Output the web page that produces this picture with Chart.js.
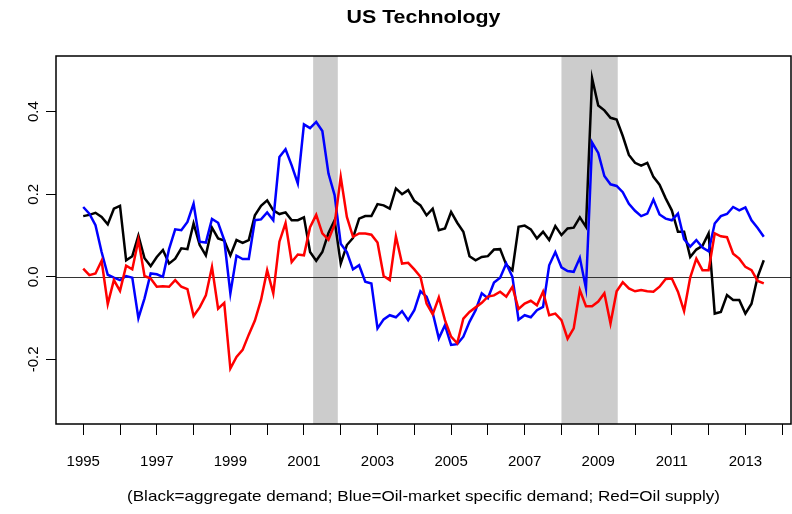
<!DOCTYPE html>
<html>
<head>
<meta charset="utf-8">
<script src="https://cdn.jsdelivr.net/npm/chart.js@4.4.1/dist/chart.umd.min.js"></script>
<style>
  body { margin: 0; background: #fff; }
  canvas { display: block; }
</style>
</head>
<body>
<canvas id="myChart" width="792" height="514"></canvas>
<script>
// bimonthly observations starting Jan 1995
const startYear = 1995;
const stepPerYear = 6;

const aggregateDemand = [
  0.147, 0.15, 0.155, 0.145, 0.127, 0.165, 0.172, 0.04, 0.05, 0.10,
  0.045, 0.026, 0.048, 0.065, 0.032, 0.044, 0.069, 0.067, 0.129, 0.077,
  0.052, 0.119, 0.093, 0.088, 0.052, 0.089, 0.082, 0.089, 0.149, 0.172,
  0.185, 0.161, 0.152, 0.156, 0.137, 0.137, 0.144, 0.06, 0.039, 0.06,
  0.106, 0.137, 0.032, 0.077, 0.094, 0.141, 0.147, 0.147, 0.176, 0.173,
  0.165, 0.214, 0.2, 0.21, 0.184, 0.173, 0.149, 0.165, 0.113, 0.117,
  0.157, 0.131, 0.109, 0.05, 0.04, 0.048, 0.05, 0.066, 0.067, 0.029,
  0.016, 0.121, 0.124, 0.115, 0.093, 0.109, 0.089, 0.123, 0.101, 0.117,
  0.119, 0.144, 0.121, 0.481, 0.415, 0.403, 0.385, 0.381, 0.341, 0.295,
  0.276, 0.269, 0.276, 0.242, 0.223, 0.19, 0.161, 0.109, 0.109, 0.048,
  0.066, 0.075, 0.105, -0.089, -0.085, -0.044, -0.056, -0.056, -0.089, -0.065,
  0.0, 0.04
];

const oilSpecificDemand = [
  0.169, 0.153, 0.125, 0.06, 0.005, -0.002, -0.008, 0.002, -0.002, -0.10,
  -0.052, 0.008, 0.006, 0.0, 0.067, 0.115, 0.113, 0.133, 0.177, 0.085,
  0.083, 0.14, 0.131, 0.089, -0.04, 0.051, 0.043, 0.043, 0.137, 0.139,
  0.156, 0.137, 0.29, 0.309, 0.27, 0.226, 0.369, 0.36, 0.375, 0.353,
  0.25, 0.198, 0.08, 0.06, 0.018, 0.028, -0.012, -0.016, -0.125, -0.103,
  -0.093, -0.098, -0.083, -0.105, -0.081, -0.035, -0.048, -0.087, -0.149, -0.117,
  -0.165, -0.163, -0.145, -0.109, -0.081, -0.04, -0.052, -0.014, -0.002, 0.032,
  0.0, -0.104, -0.093, -0.098, -0.081, -0.073, 0.028, 0.06, 0.023, 0.014,
  0.012, 0.046, -0.028, 0.325, 0.30, 0.244, 0.224, 0.22, 0.205, 0.177,
  0.16, 0.147, 0.153, 0.187, 0.151, 0.141, 0.137, 0.153, 0.091, 0.073,
  0.089, 0.071, 0.062, 0.129, 0.147, 0.152, 0.169, 0.161, 0.168, 0.137,
  0.118, 0.097
];

const oilSupply = [
  0.020, 0.004, 0.008, 0.039, -0.066, -0.008, -0.034, 0.027, 0.018, 0.089,
  0.002, -0.004, -0.024, -0.023, -0.024, -0.008, -0.024, -0.03, -0.095, -0.074,
  -0.045, 0.024, -0.077, -0.063, -0.222, -0.194, -0.177, -0.14, -0.106, -0.056,
  0.016, -0.04, 0.085, 0.13, 0.036, 0.054, 0.052, 0.12, 0.15, 0.105,
  0.09, 0.127, 0.242, 0.145, 0.097, 0.105, 0.105, 0.102, 0.083, 0.002,
  -0.008, 0.098, 0.032, 0.034, 0.018, 0.0, -0.065, -0.091, -0.05, -0.105,
  -0.145, -0.161, -0.101, -0.085, -0.074, -0.063, -0.048, -0.045, -0.036, -0.048,
  -0.024, -0.078, -0.065, -0.058, -0.069, -0.036, -0.093, -0.089, -0.105, -0.15,
  -0.125, -0.032, -0.071, -0.071, -0.06, -0.04, -0.113, -0.035, -0.013, -0.028,
  -0.035, -0.032, -0.035, -0.036, -0.024, -0.005, -0.004, -0.036, -0.083, -0.002,
  0.044, 0.016, 0.016, 0.105, 0.098, 0.096, 0.056, 0.044, 0.024, 0.016,
  -0.01, -0.016
];

const yearTicks = [1995, 1996, 1997, 1998, 1999, 2000, 2001, 2002, 2003, 2004,
                   2005, 2006, 2007, 2008, 2009, 2010, 2011, 2012, 2013, 2014];
const valueTicks = [-0.2, 0.0, 0.2, 0.4];
const recessions = [[2001.25, 2001.92], [2008.0, 2009.53]];

const titleText = 'US Technology';
const noteText = '(Black=aggregate demand; Blue=Oil-market specific demand; Red=Oil supply)';

const FONT = '"Liberation Sans", Arial, Helvetica, sans-serif';

const toPoints = (arr) => arr.map((v, i) => ({ x: startYear + i / stepPerYear, y: v }));

// draw text centred at (x, y), squeezed or stretched to a given width
const fitText = (ctx, text, x, y, width) => {
    const w = ctx.measureText(text).width;
    ctx.save();
    ctx.translate(x, y);
    ctx.scale(width / w, 1);
    ctx.fillText(text, 0, 0);
    ctx.restore();
};

// shading, zero line, frame, rotated y labels, title and footnote
const rPlotStyle = {
    id: 'rPlotStyle',
    beforeDatasetsDraw(chart) {
        const { ctx, chartArea: a, scales } = chart;
        ctx.save();
        ctx.fillStyle = '#cccccc';
        recessions.forEach(([from, to]) => {
            const x0 = scales.x.getPixelForValue(from);
            const x1 = scales.x.getPixelForValue(to);
            ctx.fillRect(x0, a.top, x1 - x0, a.bottom - a.top);
        });
        const y0 = Math.round(scales.y.getPixelForValue(0)) + 0.5;
        ctx.strokeStyle = '#333333';
        ctx.lineWidth = 1;
        ctx.beginPath();
        ctx.moveTo(a.left, y0);
        ctx.lineTo(a.right, y0);
        ctx.stroke();
        ctx.restore();
    },
    afterDraw(chart) {
        const { ctx, chartArea: a, scales } = chart;
        ctx.save();
        ctx.strokeStyle = '#000';
        ctx.lineWidth = 1.5;
        ctx.strokeRect(a.left, a.top, a.right - a.left, a.bottom - a.top);

        ctx.fillStyle = '#000';
        ctx.font = '15px ' + FONT;
        ctx.textAlign = 'center';
        ctx.textBaseline = 'middle';
        valueTicks.forEach(v => {
            const y = scales.y.getPixelForValue(v);
            ctx.save();
            ctx.translate(34, y);
            ctx.rotate(-Math.PI / 2);
            ctx.fillText(v.toFixed(1), 0, 0);
            ctx.restore();
        });

        const mid = (a.left + a.right) / 2;
        ctx.font = 'bold 19px ' + FONT;
        fitText(ctx, titleText, mid, 18, 154);

        ctx.font = '15px ' + FONT;
        fitText(ctx, noteText, mid, 497, 593);
        ctx.restore();
    }
};

const ctx = document.getElementById('myChart');
new Chart(ctx, {
    type: 'line',
    data: {
        datasets: [
            { label: 'Aggregate demand', data: toPoints(aggregateDemand), borderColor: '#000000', order: 3 },
            { label: 'Oil-market specific demand', data: toPoints(oilSpecificDemand), borderColor: '#0000ff', order: 2 },
            { label: 'Oil supply', data: toPoints(oilSupply), borderColor: '#ff0000', order: 1 }
        ]
    },
    options: {
        responsive: false,
        animation: false,
        devicePixelRatio: 1,
        layout: { padding: { top: 56, right: 1, left: 0, bottom: 0 } },
        elements: {
            line: { borderWidth: 2.5, tension: 0 },
            point: { radius: 0 }
        },
        plugins: {
            legend: { display: false },
            title: { display: false },
            tooltip: { enabled: false }
        },
        scales: {
            x: {
                type: 'linear',
                min: 1994.26,
                max: 2014.24,
                afterBuildTicks: (s) => { s.ticks = yearTicks.map(v => ({ value: v })); },
                afterFit: (s) => { s.height = 90; s.paddingLeft = 0; s.paddingRight = 0; },
                border: { display: false },
                grid: { drawOnChartArea: false, drawTicks: true, tickLength: 11, color: '#000', lineWidth: 1 },
                ticks: {
                    autoSkip: false,
                    maxRotation: 0,
                    padding: 18,
                    color: '#000',
                    font: { family: FONT, size: 15 },
                    callback: (v) => (v % 2 === 1 ? String(v) : '')
                }
            },
            y: {
                min: -0.3564,
                max: 0.5347,
                afterBuildTicks: (s) => { s.ticks = valueTicks.map(v => ({ value: v })); },
                afterFit: (s) => { s.width = 56; },
                border: { display: false },
                grid: { drawOnChartArea: false, drawTicks: true, tickLength: 10, color: '#000', lineWidth: 1 },
                ticks: { display: false }
            }
        }
    },
    plugins: [rPlotStyle]
});
</script>
</body>
</html>
